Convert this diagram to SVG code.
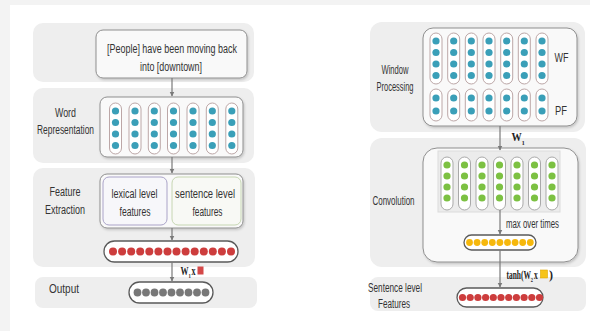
<svg xmlns="http://www.w3.org/2000/svg" width="590" height="331" viewBox="0 0 590 331">
  <defs>
    <style>
      .band { fill: #eeeeee; }
      .box { fill: #f9f9f9; stroke: #8f8f8f; stroke-width: 1; }
      .lbl { font-family: "Liberation Sans", Arial, sans-serif; font-size: 12.5px; fill: #333; }
      .math { font-family: "Liberation Serif", "Times New Roman", serif; font-weight: bold; font-size: 12px; fill: #222; }
      .tpill { fill: #fff; stroke: #bca7a7; stroke-width: 1; }
      .gpill { fill: #fff; stroke: #a9a9a9; stroke-width: 1; }
      .vec { fill: #fff; stroke: #5a5a5a; stroke-width: 1.3; }
      .teal { fill: #3a9fb8; }
      .green { fill: #7cc142; }
      .red { fill: #cd3d3d; }
      .grey { fill: #787878; }
      .yel { fill: #f6b80c; }
      .conn { stroke: #7a7a7a; stroke-width: 1.2; fill: none; marker-end: url(#arr); }
    </style>
    <marker id="arr" viewBox="0 0 10 10" refX="9" refY="5" markerWidth="5" markerHeight="6" orient="auto" markerUnits="userSpaceOnUse">
      <path d="M0,0 L10,5 L0,10 z" fill="#7a7a7a"/>
    </marker>
    <filter id="sh" x="-10%" y="-10%" width="120%" height="130%">
      <feDropShadow dx="1" dy="1.5" stdDeviation="1.2" flood-color="#000" flood-opacity="0.18"/>
    </filter>
    <g id="tp4">
      <rect class="tpill" x="-6" y="0" width="12" height="51" rx="6"/>
      <circle class="teal" cx="0" cy="8" r="3.6"/>
      <circle class="teal" cx="0" cy="19.5" r="3.6"/>
      <circle class="teal" cx="0" cy="31" r="3.6"/>
      <circle class="teal" cx="0" cy="42.5" r="3.6"/>
    </g>
    <g id="tp2">
      <rect class="tpill" x="-6" y="0" width="12" height="32" rx="6"/>
      <circle class="teal" cx="0" cy="9" r="3.6"/>
      <circle class="teal" cx="0" cy="22" r="3.6"/>
    </g>
    <g id="gp4">
      <rect class="gpill" x="-6" y="0" width="12" height="53" rx="6"/>
      <circle class="green" cx="0" cy="8" r="3.6"/>
      <circle class="green" cx="0" cy="19" r="3.6"/>
      <circle class="green" cx="0" cy="30" r="3.6"/>
      <circle class="green" cx="0" cy="41" r="3.6"/>
    </g>
  </defs>

  <!-- page -->
  <rect x="0" y="0" width="590" height="331" fill="#fff"/>
  <rect x="0" y="0" width="590" height="5" fill="#f3f3f3"/>
  <rect x="0" y="0" width="10" height="331" fill="#f3f3f3"/>

  <!-- ===== left model ===== -->
  <g id="band-input">
    <rect class="band" x="33" y="23" width="221" height="59" rx="10"/>
  </g>
  <g id="band-word">
    <rect class="band" x="33" y="88" width="221" height="75" rx="10"/>
    <text class="lbl" x="65.5" y="117" text-anchor="middle" textLength="21" lengthAdjust="spacingAndGlyphs">Word</text>
    <text class="lbl" x="65.5" y="134" text-anchor="middle" textLength="57" lengthAdjust="spacingAndGlyphs">Representation</text>
  </g>
  <g id="band-feature">
    <rect class="band" x="33" y="168" width="222" height="99" rx="10"/>
    <text class="lbl" x="65" y="196" text-anchor="middle" textLength="31" lengthAdjust="spacingAndGlyphs">Feature</text>
    <text class="lbl" x="65" y="214" text-anchor="middle" textLength="40" lengthAdjust="spacingAndGlyphs">Extraction</text>
  </g>
  <g id="band-output">
    <rect class="band" x="35" y="277" width="222" height="31" rx="8"/>
    <text class="lbl" x="64" y="293" text-anchor="middle" textLength="30" lengthAdjust="spacingAndGlyphs">Output</text>
  </g>

  <g id="sentence">
    <rect class="box" x="96" y="30" width="151" height="48" rx="7" filter="url(#sh)"/>
    <text class="lbl" x="172" y="53" text-anchor="middle" textLength="130" lengthAdjust="spacingAndGlyphs">[People] have been moving back</text>
    <text class="lbl" x="171" y="71" text-anchor="middle" textLength="62" lengthAdjust="spacingAndGlyphs">into [downtown]</text>
  </g>

  <g id="word-repr">
    <rect class="box" x="100" y="97" width="143" height="60" rx="7" filter="url(#sh)"/>
    <use href="#tp4" x="115.5" y="103"/>
    <use href="#tp4" x="135" y="103"/>
    <use href="#tp4" x="154.3" y="103"/>
    <use href="#tp4" x="173.5" y="103"/>
    <use href="#tp4" x="193" y="103"/>
    <use href="#tp4" x="212.3" y="103"/>
    <use href="#tp4" x="231.8" y="103"/>
  </g>

  <g id="feature-box">
    <rect class="box" x="100" y="174" width="143" height="54" rx="7" filter="url(#sh)"/>
    <rect x="103" y="177" width="64" height="48" rx="6" fill="#f7f7fa" stroke="#aaa3c8" stroke-width="1"/>
    <rect x="172" y="177" width="69" height="48" rx="6" fill="#f8f9f5" stroke="#c6d6b2" stroke-width="1"/>
    <text class="lbl" x="134.5" y="198" text-anchor="middle" textLength="46" lengthAdjust="spacingAndGlyphs">lexical level</text>
    <text class="lbl" x="135" y="216" text-anchor="middle" textLength="31" lengthAdjust="spacingAndGlyphs">features</text>
    <text class="lbl" x="205" y="198" text-anchor="middle" textLength="60" lengthAdjust="spacingAndGlyphs">sentence level</text>
    <text class="lbl" x="207.5" y="216" text-anchor="middle" textLength="30" lengthAdjust="spacingAndGlyphs">features</text>
  </g>

  <g id="feature-vector">
    <rect class="vec" x="104" y="241" width="134" height="21" rx="10.5"/>
    <circle class="red" cx="113" cy="251.5" r="4"/>
    <circle class="red" cx="122.1" cy="251.5" r="4"/>
    <circle class="red" cx="131.2" cy="251.5" r="4"/>
    <circle class="red" cx="140.2" cy="251.5" r="4"/>
    <circle class="red" cx="149.3" cy="251.5" r="4"/>
    <circle class="red" cx="158.4" cy="251.5" r="4"/>
    <circle class="red" cx="167.5" cy="251.5" r="4"/>
    <circle class="red" cx="176.5" cy="251.5" r="4"/>
    <circle class="red" cx="185.6" cy="251.5" r="4"/>
    <circle class="red" cx="194.7" cy="251.5" r="4"/>
    <circle class="red" cx="203.8" cy="251.5" r="4"/>
    <circle class="red" cx="212.8" cy="251.5" r="4"/>
    <circle class="red" cx="221.9" cy="251.5" r="4"/>
    <circle class="red" cx="231" cy="251.5" r="4"/>
  </g>

  <g id="output-vector">
    <rect class="vec" x="129" y="282" width="84" height="21" rx="10.5"/>
    <circle class="grey" cx="137.5" cy="292.5" r="3.9"/>
    <circle class="grey" cx="146" cy="292.5" r="3.9"/>
    <circle class="grey" cx="154.5" cy="292.5" r="3.9"/>
    <circle class="grey" cx="163" cy="292.5" r="3.9"/>
    <circle class="grey" cx="171.5" cy="292.5" r="3.9"/>
    <circle class="grey" cx="180" cy="292.5" r="3.9"/>
    <circle class="grey" cx="188.5" cy="292.5" r="3.9"/>
    <circle class="grey" cx="197" cy="292.5" r="3.9"/>
    <circle class="grey" cx="205.5" cy="292.5" r="3.9"/>
  </g>

  <!-- ===== right model ===== -->
  <g id="band-window">
    <rect class="band" x="370" y="22" width="215" height="110" rx="12"/>
    <text class="lbl" x="395" y="74" text-anchor="middle" textLength="27" lengthAdjust="spacingAndGlyphs">Window</text>
    <text class="lbl" x="395" y="91" text-anchor="middle" textLength="37" lengthAdjust="spacingAndGlyphs">Processing</text>
  </g>
  <g id="band-conv">
    <rect class="band" x="370" y="138" width="216" height="129" rx="12"/>
    <text class="lbl" x="393.5" y="205" text-anchor="middle" textLength="42" lengthAdjust="spacingAndGlyphs">Convolution</text>
  </g>
  <g id="band-sentence">
    <rect class="band" x="370" y="277" width="216" height="34" rx="8"/>
    <text class="lbl" x="395" y="292" text-anchor="middle" textLength="54" lengthAdjust="spacingAndGlyphs">Sentence level</text>
    <text class="lbl" x="394" y="308" text-anchor="middle" textLength="32" lengthAdjust="spacingAndGlyphs">Features</text>
  </g>

  <g id="window">
    <rect class="box" x="423" y="28" width="154" height="98" rx="10" filter="url(#sh)"/>
    <use href="#tp4" x="436" y="33"/>
    <use href="#tp4" x="453.7" y="33"/>
    <use href="#tp4" x="471.3" y="33"/>
    <use href="#tp4" x="489" y="33"/>
    <use href="#tp4" x="506.7" y="33"/>
    <use href="#tp4" x="524.3" y="33"/>
    <use href="#tp4" x="542" y="33"/>
    <use href="#tp2" x="436" y="89"/>
    <use href="#tp2" x="453.7" y="89"/>
    <use href="#tp2" x="471.3" y="89"/>
    <use href="#tp2" x="489" y="89"/>
    <use href="#tp2" x="506.7" y="89"/>
    <use href="#tp2" x="524.3" y="89"/>
    <use href="#tp2" x="542" y="89"/>
    <text class="lbl" x="561.5" y="62" text-anchor="middle" textLength="14" lengthAdjust="spacingAndGlyphs">WF</text>
    <text class="lbl" x="561" y="115" text-anchor="middle" textLength="12" lengthAdjust="spacingAndGlyphs">PF</text>
  </g>

  <g id="convolution">
    <rect class="box" x="423" y="148" width="155" height="114" rx="14" filter="url(#sh)"/>
    <rect x="438" y="151" width="122" height="61" fill="#ececec" stroke="#dcdcdc" stroke-width="1"/>
    <use href="#gp4" x="447" y="157"/>
    <use href="#gp4" x="464.5" y="157"/>
    <use href="#gp4" x="482" y="157"/>
    <use href="#gp4" x="499.5" y="157"/>
    <use href="#gp4" x="517" y="157"/>
    <use href="#gp4" x="534.5" y="157"/>
    <use href="#gp4" x="552" y="157"/>
  </g>

  <g id="pooled-vector">
    <rect class="vec" x="464" y="235" width="72" height="15" rx="7.5"/>
    <circle class="yel" cx="469.5" cy="242.5" r="3.4"/>
    <circle class="yel" cx="477.1" cy="242.5" r="3.4"/>
    <circle class="yel" cx="484.7" cy="242.5" r="3.4"/>
    <circle class="yel" cx="492.3" cy="242.5" r="3.4"/>
    <circle class="yel" cx="499.9" cy="242.5" r="3.4"/>
    <circle class="yel" cx="507.5" cy="242.5" r="3.4"/>
    <circle class="yel" cx="515.1" cy="242.5" r="3.4"/>
    <circle class="yel" cx="522.7" cy="242.5" r="3.4"/>
    <circle class="yel" cx="530.3" cy="242.5" r="3.4"/>
  </g>

  <g id="sentence-vector">
    <rect class="vec" x="457" y="288" width="86" height="19" rx="9.5"/>
    <circle class="red" cx="462.5" cy="297.5" r="3.6"/>
    <circle class="red" cx="470.2" cy="297.5" r="3.6"/>
    <circle class="red" cx="477.9" cy="297.5" r="3.6"/>
    <circle class="red" cx="485.6" cy="297.5" r="3.6"/>
    <circle class="red" cx="493.3" cy="297.5" r="3.6"/>
    <circle class="red" cx="501" cy="297.5" r="3.6"/>
    <circle class="red" cx="508.7" cy="297.5" r="3.6"/>
    <circle class="red" cx="516.4" cy="297.5" r="3.6"/>
    <circle class="red" cx="524.1" cy="297.5" r="3.6"/>
    <circle class="red" cx="531.8" cy="297.5" r="3.6"/>
    <circle class="red" cx="539.5" cy="297.5" r="3.6"/>
  </g>

  <!-- connectors -->
  <g id="connectors">
    <line class="conn" x1="172" y1="78" x2="172" y2="96"/>
    <line class="conn" x1="172" y1="157" x2="172" y2="173"/>
    <line class="conn" x1="172" y1="228" x2="172" y2="240"/>
    <line class="conn" x1="172" y1="262" x2="172" y2="281"/>
    <line class="conn" x1="500" y1="126" x2="500" y2="150"/>
    <line class="conn" x1="500" y1="210" x2="500" y2="234"/>
    <line class="conn" x1="500" y1="250" x2="500" y2="287"/>
  </g>

  <!-- connector labels (condensed math type) -->
  <g id="labels">
    <g transform="translate(180.5,275) scale(0.67,1)">
      <text class="math" x="0" y="0">W<tspan font-size="7" dy="3">1</tspan><tspan dx="1" dy="-3">x</tspan></text>
    </g>
    <rect x="197.5" y="266.5" width="6" height="8" fill="#d44848"/>

    <g transform="translate(511.5,141) scale(0.85,1)">
      <text class="math" x="0" y="0">W<tspan font-size="7" dy="4">1</tspan></text>
    </g>

    <text class="lbl" x="532.5" y="228" text-anchor="middle" textLength="53" lengthAdjust="spacingAndGlyphs">max over times</text>

    <g transform="translate(506.5,279) scale(0.62,1)">
      <text class="math" x="0" y="0">tanh(W<tspan font-size="7" dy="3">2</tspan><tspan dx="1.5" dy="-3">x</tspan></text>
    </g>
    <rect x="540.5" y="270" width="7" height="8" fill="#f6c419" stroke="#e0a800" stroke-width="0.6"/>
    <text class="math" x="549" y="279">)</text>
  </g>
</svg>
